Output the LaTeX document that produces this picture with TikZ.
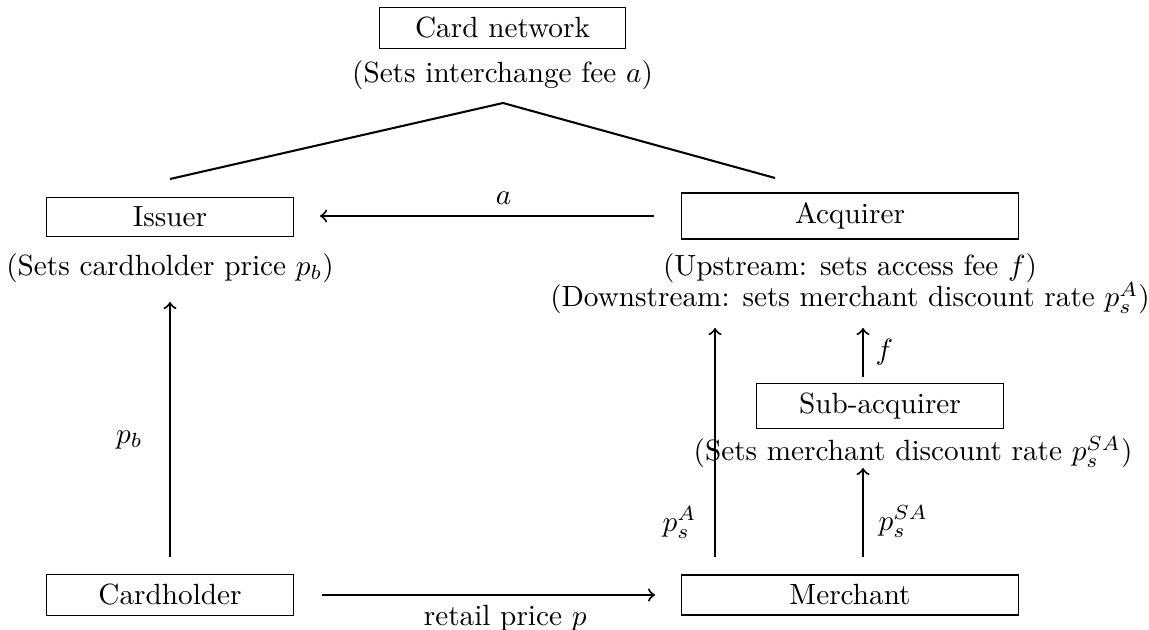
\documentclass[tikz,border=0pt]{standalone}
\begin{document}
\begin{tikzpicture}[x=0.342pt,y=-0.342pt,
  box/.style={draw, line width=0.4pt, minimum width=84.3pt, inner sep=3.33pt},
  wbox/.style={box, minimum width=115.3pt},
  conn/.style={line width=0.7pt},
  arr/.style={conn,->},
  txt/.style={inner sep=0pt}]
\useasboundingbox (0,0) rectangle (1149,629);
% boxes
\node[box] (cn) at (502.5,28) {Card network};
\node[txt] (cnt) at (502.5,75) {(Sets interchange fee $a$)};
\node[box] (iss) at (170,217) {Issuer};
\node[txt] (isst) at (170,268) {(Sets cardholder price $p_b$)};
\node[wbox] (acq) at (850,216) {Acquirer};
\node[txt] (acqt1) at (850,268) {(Upstream: sets access fee $f$)};
\node[txt] (acqt2) at (850,298) {(Downstream: sets merchant discount rate $p_s^A$)};
\node[box] (sub) at (880,406) {Sub-acquirer};
\node[txt] (subt) at (913,452) {(Sets merchant discount rate $p_s^{SA}$)};
\node[box] (ch) at (170,595) {Cardholder};
\node[wbox] (mer) at (850,595) {Merchant};
% coordinates
\coordinate (apex) at (503,103);
\coordinate (il) at (170,179);
\coordinate (ar) at (775,178);
\coordinate (a1) at (654,216);
\coordinate (a2) at (320,216);
\coordinate (pb1) at (170,557);
\coordinate (pb2) at (170,302);
\coordinate (pa1) at (715,557);
\coordinate (pa2) at (715,328);
\coordinate (psa1) at (863,557);
\coordinate (psa2) at (863,468);
\coordinate (f1) at (863,377);
\coordinate (f2) at (863,328);
\coordinate (r1) at (322,595);
\coordinate (r2) at (655,595);
% connectors
\draw[conn] (il) -- (apex) -- (ar);
\draw[arr] (a1) -- node[txt, above=3.5pt, pos=0.45] {$a$} (a2);
\draw[arr] (pb1) -- node[txt, left=9pt, pos=0.46] {$p_b$} (pb2);
\draw[arr] (pa1) -- node[txt, left=6pt, pos=0.15] {$p_s^A$} (pa2);
\draw[arr] (psa1) -- node[txt, right=5pt, pos=0.4] {$p_s^{SA}$} (psa2);
\draw[arr] (f1) -- node[txt, right=4pt] {$f$} (f2);
\draw[arr] (r1) -- node[txt, below=3pt, pos=0.55] {retail price $p$} (r2);
\end{tikzpicture}
\end{document}
